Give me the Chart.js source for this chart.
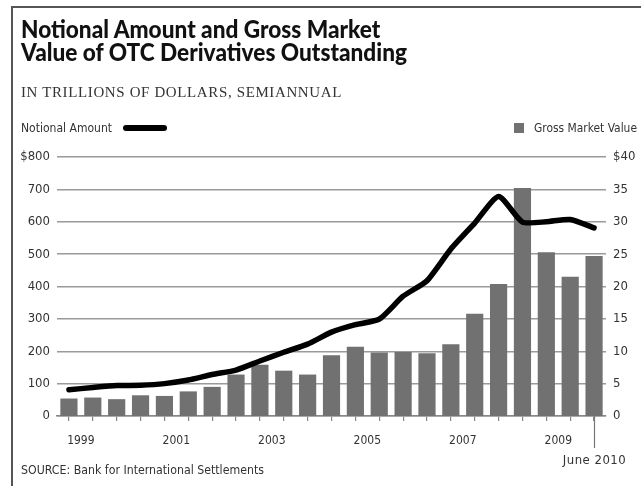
<!DOCTYPE html>
<html>
<head>
<meta charset="utf-8">
<title>OTC Derivatives Outstanding</title>
<script src="https://cdn.jsdelivr.net/npm/chart.js@4.4.0/dist/chart.umd.min.js"></script>
<style>
  html, body { margin: 0; padding: 0; background: #fff; }
  body {
    width: 641px; height: 486px; position: relative; overflow: hidden;
    font-family: "Liberation Sans Narrow", "DejaVu Sans Condensed", "Roboto", sans-serif;
    color: #222;
  }
  #frame {
    position: absolute; left: 11px; top: 6px; width: 640px; height: 490px;
    border-left: 2px solid #555; border-top: 2px solid #555;
  }
  .txt { position: absolute; white-space: nowrap; transform-origin: left top; }
  #title { left: 21px; top: 17px; font-family: "Lato", "DejaVu Sans Condensed", sans-serif; font-size: 24px; line-height: 23px; font-weight: 900; color: #111; }
  #sub { left: 21px; top: 86px; font-family: "Liberation Serif", serif; font-size: 14px; line-height: 14px; color: #333; letter-spacing: 0.6px; }
  #legLine { left: 21px; top: 121px; font-size: 13px; line-height: 14px; color: #333; }
  #legLineMark { position: absolute; left: 123px; top: 125px; width: 44px; height: 6px; border-radius: 3px; background: #000; }
  #legBarMark { position: absolute; left: 514px; top: 123px; width: 10px; height: 10px; background: #717171; }
  #legBar { left: 534px; top: 121px; font-size: 13px; line-height: 14px; color: #333; }
  #source { left: 21px; top: 463px; font-size: 13px; line-height: 14px; color: #333; }
  canvas { position: absolute; left: 0; top: 0; }
</style>
</head>
<body>
<div id="frame"></div>
<canvas id="otcChart" width="641" height="486"></canvas>
<div class="txt" id="title" data-fit="386">Notional Amount and Gross Market<br>Value of OTC Derivatives Outstanding</div>
<div class="txt" id="sub" data-fit="321">IN TRILLIONS OF DOLLARS, SEMIANNUAL</div>
<div class="txt" id="legLine" data-fit="91">Notional Amount</div>
<div id="legLineMark"></div>
<div id="legBarMark"></div>
<div class="txt" id="legBar" data-fit="103">Gross Market Value</div>
<div class="txt" id="source" data-fit="243">SOURCE: Bank for International Settlements</div>

<script>
'use strict'

// semiannual periods, June 1999 .. June 2010
const periods = [
    'Jun 1999', 'Dec 1999', 'Jun 2000', 'Dec 2000', 'Jun 2001', 'Dec 2001',
    'Jun 2002', 'Dec 2002', 'Jun 2003', 'Dec 2003', 'Jun 2004', 'Dec 2004',
    'Jun 2005', 'Dec 2005', 'Jun 2006', 'Dec 2006', 'Jun 2007', 'Dec 2007',
    'Jun 2008', 'Dec 2008', 'Jun 2009', 'Dec 2009', 'Jun 2010'
];

// notional amount, $ trillions (left axis)
const notional = [
    81, 88, 94, 95, 100, 111,
    128, 142, 170, 197, 222, 259,
    282, 299, 370, 418, 516, 596,
    678, 599, 600, 607, 581
];

// gross market value, $ trillions (right axis)
const grossValue = [
    2.7, 2.85, 2.6, 3.2, 3.1, 3.8,
    4.5, 6.4, 7.9, 7.0, 6.4, 9.4,
    10.7, 9.8, 9.9, 9.7, 11.1, 15.8,
    20.4, 35.2, 25.3, 21.5, 24.7
];

// year labels, each centred under its June/December pair
const yearLabels = ['1999', '2001', '2003', '2005', '2007', '2009'];
const yearStarts = ['Jun 1999', 'Jun 2001', 'Jun 2003', 'Jun 2005', 'Jun 2007', 'Jun 2009'];
const lastLabel = 'June 2010';

const fontFamily = '"Liberation Sans Narrow", "DejaVu Sans Condensed", "Roboto", sans-serif';

// squeeze the html text blocks to the widths of the original print layout
document.querySelectorAll('[data-fit]').forEach(el => {
    const w = el.getBoundingClientRect().width;
    el.style.transform = 'scaleX(' + (Number(el.dataset.fit) / w) + ')';
});

const yearLabelPlugin = {
    id: 'yearLabels',
    afterDraw(chart) {
        const x = chart.scales.x;
        const ctx = chart.ctx;
        ctx.save();
        ctx.font = '12px ' + fontFamily;
        ctx.fillStyle = '#333';
        ctx.textAlign = 'center';
        ctx.textBaseline = 'middle';

        yearLabels.forEach((label, i) => {
            const idx = periods.indexOf(yearStarts[i]);
            const px = (x.getPixelForValue(idx) + x.getPixelForValue(idx + 1)) / 2;
            ctx.fillText(label, px, 441);
        });

        // June 2010 marker
        const lastX = Math.round(x.getPixelForValue(periods.length - 1)) + 0.5;
        ctx.strokeStyle = '#777';
        ctx.lineWidth = 1.2;
        ctx.beginPath();
        ctx.moveTo(lastX, chart.chartArea.bottom);
        ctx.lineTo(lastX, 448);
        ctx.stroke();
        ctx.font = '13px ' + fontFamily;
        ctx.letterSpacing = '0.5px';
        ctx.fillText(lastLabel, lastX, 461);
        ctx.restore();
    }
};

Chart.defaults.font.family = fontFamily;
Chart.defaults.font.size = 13;
Chart.defaults.color = '#333';

const ctx = document.getElementById('otcChart').getContext('2d');

new Chart(ctx, {
    type: 'bar',
    data: {
        labels: periods,
        datasets: [
            {
                type: 'line',
                label: 'Notional Amount',
                data: notional,
                yAxisID: 'y',
                borderColor: '#000',
                borderWidth: 5.5,
                borderCapStyle: 'round',
                borderJoinStyle: 'round',
                tension: 0.2,
                pointRadius: 0,
                fill: false,
                order: 0
            },
            {
                type: 'bar',
                label: 'Gross Market Value',
                data: grossValue,
                yAxisID: 'y2',
                backgroundColor: '#717171',
                categoryPercentage: 0.8,
                barPercentage: 0.9,
                order: 1
            }
        ]
    },
    options: {
        responsive: false,
        animation: false,
        layout: {
            padding: { top: 157, left: 0, right: 0, bottom: 0 }
        },
        plugins: {
            legend: { display: false },
            tooltip: { enabled: false }
        },
        scales: {
            x: {
                type: 'category',
                offset: true,
                grid: {
                    offset: false,
                    drawOnChartArea: false,
                    drawTicks: true,
                    tickLength: 5,
                    color: '#888',
                    lineWidth: 1.2
                },
                border: { color: '#888', width: 1.5 },
                ticks: { display: false },
                afterFit(scale) { scale.height = 70; }
            },
            y: {
                position: 'left',
                min: 0,
                max: 800,
                ticks: {
                    stepSize: 100,
                    padding: 7,
                    color: '#333',
                    callback: v => v === 800 ? '$800' : v
                },
                grid: { color: '#9a9a9a', lineWidth: 1.5, drawTicks: false },
                border: { display: false },
                afterFit(scale) { scale.width = 57; }
            },
            y2: {
                position: 'right',
                min: 0,
                max: 40,
                ticks: {
                    stepSize: 5,
                    padding: 7,
                    color: '#333',
                    callback: v => v === 40 ? '$40' : v
                },
                grid: { display: false, drawTicks: false },
                border: { display: false },
                afterFit(scale) { scale.width = 35; }
            }
        }
    },
    plugins: [yearLabelPlugin]
});
</script>
</body>
</html>
